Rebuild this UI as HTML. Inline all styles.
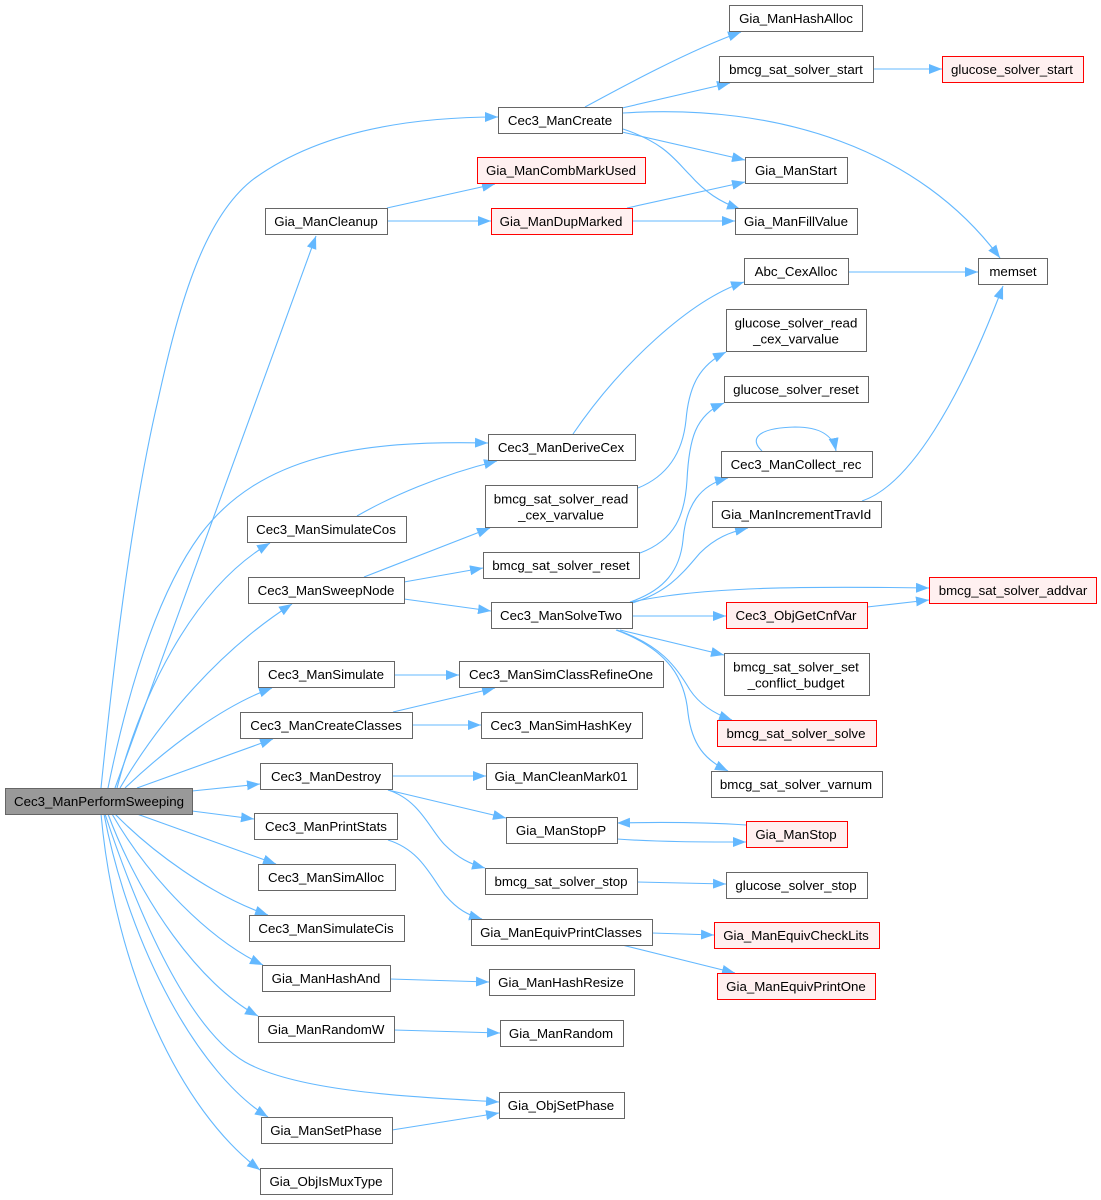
<!DOCTYPE html>
<html><head><meta charset="utf-8"><style>
html,body{margin:0;padding:0;background:#fff;width:1101px;height:1200px;overflow:hidden}
svg{display:block}
text{font-family:"Liberation Sans",Arial,sans-serif;font-size:13.3px;fill:#000;text-anchor:middle}
.n{fill:#fff;stroke:#666;stroke-width:1}
.r{fill:#fff0f0;stroke:#ff0000;stroke-width:1}
.g{fill:#999;stroke:#666;stroke-width:1}
.e{fill:none;stroke:#63b8ff;stroke-width:1.1;marker-end:url(#a)}
</style></head><body>
<svg width="1101" height="1200" viewBox="0 0 1101 1200" xmlns="http://www.w3.org/2000/svg">
<defs><marker id="a" viewBox="0 0 13 10" refX="13" refY="5" markerWidth="13" markerHeight="10" markerUnits="userSpaceOnUse" orient="auto"><path d="M0,0 L13,5 L0,10 z" fill="#63b8ff"/></marker></defs>

<!-- edges from root -->
<path class="e" d="M101,788 C112,680 130,520 158,400 C180,300 205,215 255,178 C325,128 420,117 498,117"/>
<path class="e" d="M115,788 L316,236"/>
<path class="e" d="M108,788 C130,680 160,590 200,535 C260,455 360,440 488,443"/>
<path class="e" d="M117,788 C140,700 190,590 270,543"/>
<path class="e" d="M120,788 C160,720 220,650 292,604"/>
<path class="e" d="M125,788 C170,745 225,705 272,688"/>
<path class="e" d="M137,788 L273,739"/>
<path class="e" d="M192,791 L260,784"/>
<path class="e" d="M192,811 L254,819"/>
<path class="e" d="M137,814 L276,864"/>
<path class="e" d="M115,814 C150,850 210,895 268,915"/>
<path class="e" d="M112,814 C150,880 210,940 263,965"/>
<path class="e" d="M108,814 C140,900 200,985 258,1016"/>
<path class="e" d="M105,814 C140,920 190,1030 245,1062 C300,1093 420,1097 499,1102"/>
<path class="e" d="M104,814 C130,950 200,1075 268,1117"/>
<path class="e" d="M101,814 C115,970 180,1110 260,1170"/>

<!-- other edges -->
<path class="e" d="M387,208 L495,184"/>
<path class="e" d="M387,221 L491,221"/>
<path class="e" d="M585,107 C620,88 690,50 741,32"/>
<path class="e" d="M622,108 L730,83"/>
<path class="e" d="M623,113 C780,103 920,150 1000,258"/>
<path class="e" d="M622,132 L745,160"/>
<path class="e" d="M623,129 C665,143 675,160 690,175 C705,192 720,202 740,209"/>
<path class="e" d="M627,208 L745,182"/>
<path class="e" d="M632,221 L735,221"/>
<path class="e" d="M873,69 L942,69"/>
<path class="e" d="M849,272 L978,272"/>
<path class="e" d="M573,434 C620,365 690,300 744,282"/>
<path class="e" d="M638,488 C670,475 683,450 686,420 C689,385 700,365 726,352"/>
<path class="e" d="M640,553 C675,540 685,515 687,480 C689,440 695,415 724,403"/>
<path class="e" d="M630,602 C665,590 680,570 683,540 C686,505 700,485 728,478"/>
<path class="e" d="M632,603 C670,592 685,570 700,553 C715,538 730,532 748,528"/>
<path class="e" d="M632,602 C700,587 800,586 929,588"/>
<path class="e" d="M632,616 L726,616"/>
<path class="e" d="M867,607 L929,600"/>
<path class="e" d="M620,630 L724,655"/>
<path class="e" d="M617,630 C660,645 675,665 690,690 C700,705 715,714 732,720"/>
<path class="e" d="M616,630 C670,650 685,680 688,713 C692,745 705,760 728,771"/>
<path class="e" d="M364,577 L490,528"/>
<path class="e" d="M404,582 L483,568"/>
<path class="e" d="M404,599 L491,611"/>
<path class="e" d="M357,516 C390,497 440,475 497,461"/>
<path class="e" d="M394,675 L459,675"/>
<path class="e" d="M393,712 L495,688"/>
<path class="e" d="M412,725 L481,725"/>
<path class="e" d="M392,776 L486,776"/>
<path class="e" d="M388,790 L506,818"/>
<path class="e" d="M388,790 C420,800 430,830 445,845 C458,858 470,864 485,868"/>
<path class="e" d="M388,840 C420,850 430,875 445,895 C458,910 468,915 482,919"/>
<path class="e" d="M390,979 L489,982"/>
<path class="e" d="M394,1030 L500,1033"/>
<path class="e" d="M392,1130 L499,1113"/>
<path class="e" d="M637,882 L726,884"/>
<path class="e" d="M652,933 L714,935"/>
<path class="e" d="M622,945 L735,973"/>
<path class="e" d="M746,825 C700,822 660,822 617,823"/>
<path class="e" d="M617,839 C660,842 700,842 746,842"/>
<path class="e" d="M762,451 C750,440 755,428 795,427 C820,427 833,435 836,451"/>
<path class="e" d="M862,501 C910,485 960,400 1003,286"/>

<!-- nodes -->
<rect class="g" x="5.5" y="788.5" width="187" height="26"/><text x="99" y="806">Cec3_ManPerformSweeping</text>

<rect class="n" x="498.5" y="107.5" width="124" height="26"/><text x="560" y="125">Cec3_ManCreate</text>
<rect class="r" x="477.5" y="157.5" width="168" height="26"/><text x="561" y="175">Gia_ManCombMarkUsed</text>
<rect class="n" x="265.5" y="208.5" width="122" height="26"/><text x="326" y="226">Gia_ManCleanup</text>
<rect class="r" x="491.5" y="208.5" width="141" height="26"/><text x="561" y="226">Gia_ManDupMarked</text>
<rect class="n" x="729.5" y="5.5" width="133" height="26"/><text x="796" y="23">Gia_ManHashAlloc</text>
<rect class="n" x="719.5" y="56.5" width="154" height="26"/><text x="796" y="74">bmcg_sat_solver_start</text>
<rect class="r" x="942.5" y="56.5" width="141" height="26"/><text x="1012" y="74">glucose_solver_start</text>
<rect class="n" x="745.5" y="157.5" width="102" height="26"/><text x="796" y="175">Gia_ManStart</text>
<rect class="n" x="735.5" y="208.5" width="122" height="26"/><text x="796" y="226">Gia_ManFillValue</text>
<rect class="n" x="744.5" y="258.5" width="104" height="26"/><text x="796" y="276">Abc_CexAlloc</text>
<rect class="n" x="978.5" y="258.5" width="69" height="26"/><text x="1013" y="276">memset</text>
<rect class="n" x="726.5" y="309.5" width="140" height="42"/><text x="796" y="327.5">glucose_solver_read</text><text x="796" y="343.5">_cex_varvalue</text>
<rect class="n" x="724.5" y="376.5" width="144" height="26"/><text x="796" y="394">glucose_solver_reset</text>
<rect class="n" x="721.5" y="451.5" width="151" height="26"/><text x="796" y="469">Cec3_ManCollect_rec</text>
<rect class="n" x="712.5" y="501.5" width="169" height="26"/><text x="796" y="519">Gia_ManIncrementTravId</text>
<rect class="r" x="929.5" y="577.5" width="167" height="26"/><text x="1013" y="595">bmcg_sat_solver_addvar</text>
<rect class="r" x="726.5" y="602.5" width="141" height="26"/><text x="796" y="620">Cec3_ObjGetCnfVar</text>
<rect class="n" x="724.5" y="653.5" width="145" height="42"/><text x="796" y="671.5">bmcg_sat_solver_set</text><text x="796" y="687.5">_conflict_budget</text>
<rect class="r" x="717.5" y="720.5" width="159" height="26"/><text x="796" y="738">bmcg_sat_solver_solve</text>
<rect class="n" x="711.5" y="771.5" width="171" height="26"/><text x="796" y="789">bmcg_sat_solver_varnum</text>
<rect class="r" x="746.5" y="821.5" width="101" height="26"/><text x="796" y="839">Gia_ManStop</text>
<rect class="n" x="726.5" y="872.5" width="141" height="26"/><text x="796" y="890">glucose_solver_stop</text>
<rect class="r" x="714.5" y="922.5" width="165" height="26"/><text x="796" y="940">Gia_ManEquivCheckLits</text>
<rect class="r" x="717.5" y="973.5" width="158" height="26"/><text x="796" y="991">Gia_ManEquivPrintOne</text>

<rect class="n" x="488.5" y="434.5" width="147" height="26"/><text x="561" y="452">Cec3_ManDeriveCex</text>
<rect class="n" x="485.5" y="485.5" width="152" height="42"/><text x="561" y="503.5">bmcg_sat_solver_read</text><text x="561" y="519.5">_cex_varvalue</text>
<rect class="n" x="483.5" y="552.5" width="156" height="26"/><text x="561" y="570">bmcg_sat_solver_reset</text>
<rect class="n" x="491.5" y="602.5" width="141" height="26"/><text x="561" y="620">Cec3_ManSolveTwo</text>
<rect class="n" x="459.5" y="661.5" width="204" height="26"/><text x="561" y="679">Cec3_ManSimClassRefineOne</text>
<rect class="n" x="481.5" y="712.5" width="161" height="26"/><text x="561" y="730">Cec3_ManSimHashKey</text>
<rect class="n" x="486.5" y="763.5" width="151" height="26"/><text x="561" y="781">Gia_ManCleanMark01</text>
<rect class="n" x="506.5" y="817.5" width="111" height="26"/><text x="561" y="835">Gia_ManStopP</text>
<rect class="n" x="485.5" y="868.5" width="152" height="26"/><text x="561" y="886">bmcg_sat_solver_stop</text>
<rect class="n" x="471.5" y="919.5" width="181" height="26"/><text x="561" y="937">Gia_ManEquivPrintClasses</text>
<rect class="n" x="489.5" y="969.5" width="145" height="26"/><text x="561" y="987">Gia_ManHashResize</text>
<rect class="n" x="500.5" y="1020.5" width="123" height="26"/><text x="561" y="1038">Gia_ManRandom</text>
<rect class="n" x="499.5" y="1092.5" width="125" height="26"/><text x="561" y="1110">Gia_ObjSetPhase</text>

<rect class="n" x="247.5" y="516.5" width="159" height="26"/><text x="326" y="534">Cec3_ManSimulateCos</text>
<rect class="n" x="248.5" y="577.5" width="156" height="26"/><text x="326" y="595">Cec3_ManSweepNode</text>
<rect class="n" x="258.5" y="661.5" width="136" height="26"/><text x="326" y="679">Cec3_ManSimulate</text>
<rect class="n" x="240.5" y="712.5" width="172" height="26"/><text x="326" y="730">Cec3_ManCreateClasses</text>
<rect class="n" x="260.5" y="763.5" width="132" height="26"/><text x="326" y="781">Cec3_ManDestroy</text>
<rect class="n" x="254.5" y="813.5" width="143" height="26"/><text x="326" y="831">Cec3_ManPrintStats</text>
<rect class="n" x="258.5" y="864.5" width="137" height="26"/><text x="326" y="882">Cec3_ManSimAlloc</text>
<rect class="n" x="249.5" y="915.5" width="155" height="26"/><text x="326" y="933">Cec3_ManSimulateCis</text>
<rect class="n" x="262.5" y="965.5" width="128" height="26"/><text x="326" y="983">Gia_ManHashAnd</text>
<rect class="n" x="258.5" y="1016.5" width="136" height="26"/><text x="326" y="1034">Gia_ManRandomW</text>
<rect class="n" x="261.5" y="1117.5" width="131" height="26"/><text x="326" y="1135">Gia_ManSetPhase</text>
<rect class="n" x="260.5" y="1168.5" width="132" height="26"/><text x="326" y="1186">Gia_ObjIsMuxType</text>
</svg>
</body></html>
